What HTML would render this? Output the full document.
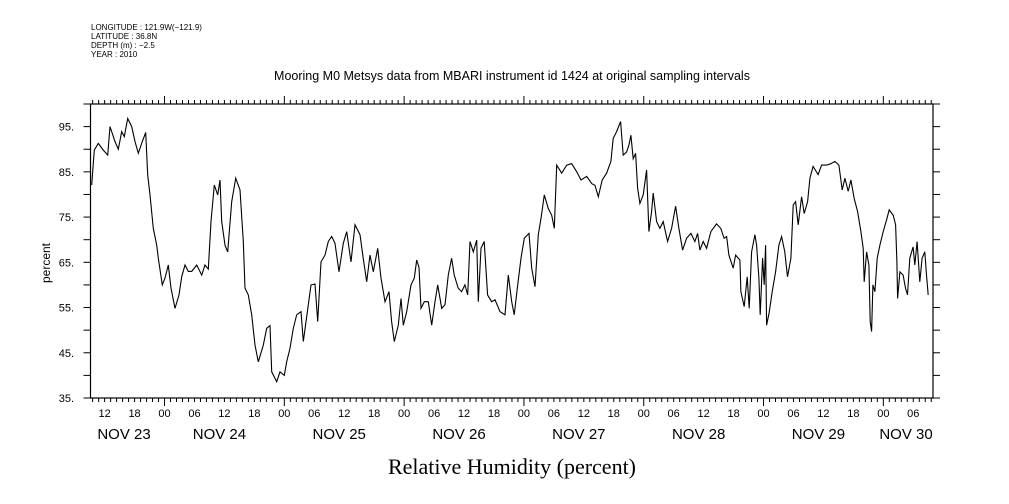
<!DOCTYPE html>
<html><head><meta charset="utf-8"><style>
html,body{margin:0;padding:0;background:#fff;}
svg{display:block;font-family:"Liberation Sans",sans-serif;}
</style></head><body>
<svg id="chart" width="1009" height="504" viewBox="0 0 1009 504" xmlns="http://www.w3.org/2000/svg">
<rect x="0" y="0" width="1009" height="504" fill="#fff"/>
<g font-size="8" fill="#000">
<text x="91" y="30">LONGITUDE : 121.9W(−121.9)</text>
<text x="91" y="39">LATITUDE : 36.8N</text>
<text x="91" y="48">DEPTH (m) : −2.5</text>
<text x="91" y="57">YEAR : 2010</text>
</g>
<text x="512" y="80" text-anchor="middle" font-size="12.5">Mooring M0 Metsys data from MBARI instrument id 1424 at original sampling intervals</text>
<text x="512" y="474" text-anchor="middle" font-size="22" font-family="'Liberation Serif',serif">Relative Humidity (percent)</text>
<text transform="translate(50,263) rotate(-90)" text-anchor="middle" font-size="12">percent</text>
<g id="axes"></g>
<path id="series" fill="none" stroke="#000" stroke-width="1.1"/>
</svg>
<script>
// hours since Nov 23 00:00
const hours = [9.41,9.94,10.74,11.74,12.62,13.08,14.08,14.74,15.42,15.94,16.63,17.43,18.09,18.75,19.55,20.23,20.63,21.09,21.75,22.43,22.75,23.56,24.10,24.76,25.30,26.10,26.90,27.44,28.10,28.76,29.44,30.45,31.45,32.11,32.77,33.31,33.97,34.65,35.11,35.45,36.12,36.65,37.46,38.26,39.12,39.78,40.12,40.78,41.46,42.12,42.78,43.79,44.47,45.13,45.47,46.47,47.13,47.99,48.47,49.13,49.80,50.48,51.34,51.80,52.80,53.34,54.14,54.68,55.35,56.15,56.81,57.49,58.15,58.95,59.81,60.49,61.35,62.15,63.15,63.81,64.50,65.16,65.82,66.70,67.36,68.16,68.96,69.50,70.03,70.83,71.37,71.83,72.51,73.37,74.03,74.51,74.97,75.37,76.04,76.84,77.52,78.18,78.72,79.52,80.18,80.84,81.52,82.04,82.84,83.52,84.18,84.73,85.19,85.85,86.53,86.85,87.39,88.05,88.73,89.53,90.20,91.20,92.20,92.86,93.54,94.06,94.76,95.42,96.08,97.02,97.56,98.22,98.88,99.42,100.08,100.88,101.56,102.08,102.56,103.56,104.56,105.56,106.57,107.43,108.57,109.57,110.23,110.89,111.69,112.57,113.43,113.89,114.57,115.37,115.89,116.57,117.03,117.43,117.90,118.38,118.78,119.24,119.90,120.58,121.04,121.58,121.90,122.58,123.24,123.90,124.79,125.59,126.39,127.05,127.79,128.59,129.45,130.25,130.79,131.25,131.92,132.60,133.46,134.57,135.43,136.10,136.60,137.06,137.93,138.41,139.27,139.47,140.13,140.73,141.13,141.61,142.27,142.61,143.07,143.33,143.81,144.13,144.41,144.61,145.13,145.73,146.41,147.07,147.61,148.27,148.81,149.48,149.94,150.42,150.94,151.62,152.14,152.82,153.28,153.94,154.94,155.63,156.63,157.49,158.29,159.09,159.76,160.30,160.96,161.50,162.17,162.85,163.51,163.97,164.17,164.65,165.11,165.37,165.65,165.91,166.31,166.77,167.31,167.97,168.65,169.17,169.97,170.45,170.71,170.85,171.31,171.97,172.45,172.85,173.31,173.97,174.31,174.77,175.31,175.77,176.31,176.65,176.98];
const humidity = [82.1,89.8,91.3,89.8,88.7,95,91.7,90,93.9,92.8,96.8,95,91.7,89.1,91.7,93.7,84.3,79.9,72.5,68.8,65.9,60,61.5,64.4,59.3,54.8,57.8,61.8,64.4,63,63,64.4,62.2,64.4,63.5,74,82.1,79.9,83.2,74,68.8,67.3,78.4,83.6,81,69.6,59.3,57.8,53.4,46.7,43,46.7,50.4,51,40.8,38.6,40.8,40,43,46,50.4,53.4,54.1,47.5,55.6,60,60.2,51.9,65.1,66.6,69.6,70.7,69.2,62.9,69.2,71.8,65.1,73.3,71.1,65.9,60.7,66.6,62.9,68.1,61.5,56.3,58.5,51.9,47.5,51.1,57,51.1,54.1,60,61.5,65.5,63.9,54.8,56.3,56.3,51.1,56.3,60,54.8,55.6,62.2,65.9,62.2,59.3,58.5,60,57.8,69.6,67.3,69.9,56.3,68.1,69.6,57.8,56.3,56.7,54.1,53.4,62.2,56.3,53.4,60,65.9,70.3,71.4,63.7,59.6,71.1,74.7,79.9,76.9,75.4,72.5,86.5,84.7,86.5,86.8,85,83.2,84,82.4,82,79.5,83.2,84.7,87.3,92.4,93.9,96.1,88.7,89.4,90.9,93.1,87.9,89.1,81.4,78,79.9,85.4,71.8,76.2,80.3,74,72.5,74,69.6,72.5,77.4,72.5,67.7,70.3,71.4,69.6,71.4,67.7,69.6,68.1,71.8,73.5,72.5,70.3,70.7,66.6,63.7,66.6,65.5,58.5,55.2,61.8,54.8,67.3,71.1,68.8,61.5,53.4,65.9,60,68.8,51.1,53.9,58.5,62.9,68.8,70.7,67.3,61.8,65.9,77.7,78.4,73.3,79.5,75.8,78.4,83.6,86.2,84.4,86.5,86.5,86.8,87.3,86.5,81,83.6,80.7,83.2,79.1,76.2,71.8,68.1,60.7,67.3,64.4,51.9,49.7,60,58.5,65.9,68.8,71.8,74.4,76.6,75.4,73.3,65.1,57,62.9,62.2,59.3,57.8,65.9,68.4,64.4,69.6,60.7,65.9,67.3,62.2,57.8];
const yTicks = [35,45,55,65,75,85,95];
const dayNames = ["NOV 23","NOV 24","NOV 25","NOV 26","NOV 27","NOV 28","NOV 29","NOV 30"];
const hourLabels = ["00","06","12","18"];

const L=90.5,R=933,T=104,B=398, yMin=35,yMax=100, hMin=9.17,hMax=177.95;
const X=h=>L+(h-hMin)/(hMax-hMin)*(R-L);
const Y=v=>B-(v-yMin)/(yMax-yMin)*(B-T);
const NS="http://www.w3.org/2000/svg";
const ax=document.getElementById('axes');
function mk(tag,attrs){const e=document.createElementNS(NS,tag);for(const k in attrs)e.setAttribute(k,attrs[k]);ax.appendChild(e);return e;}

const frame=mk('rect',{x:L,y:T,width:R-L,height:B-T,fill:'none',stroke:'#000','stroke-width':1.2});



// y ticks (every 5, labels every 10)
for(let v=35;v<=100;v+=5){
  const y=Y(v);
  const t1=mk('line',{x1:L-7,x2:L,y1:y,y2:y,stroke:'#000'});
  
  
  const t2=mk('line',{x1:R,x2:R+7,y1:y,y2:y,stroke:'#000'});
  
  
}
yTicks.forEach(v=>{
  const t=mk('text',{x:74,y:Y(v)+4,'text-anchor':'end','font-size':11});
  t.textContent=v+'.';
  
  
});

// x ticks: minor every 1.2 h, major at day boundaries
for(let h=0;h<=hMax+0.01;h+=1.2){
  if(h<hMin-0.01)continue;
  const x=X(h);
  const major=Math.abs(h/24-Math.round(h/24))<0.001;
  const len=major?8:4;
  const b=mk('line',{x1:x,x2:x,y1:B,y2:B+len,stroke:'#000'});
  
  
  const tp=mk('line',{x1:x,x2:x,y1:T,y2:T-len,stroke:'#000'});
  
  
}
for(let h=0;h<=hMax;h+=6){
  if(h<hMin)continue;
  const t=mk('text',{x:X(h),y:417,'text-anchor':'middle','font-size':11});
  t.textContent=hourLabels[(h/6)%4];
  
  
}
dayNames.forEach((d,i)=>{
  let cx=X(i*24+12)-5;
  cx=Math.max(124,Math.min(906,cx));
  const t=mk('text',{x:cx,y:439,'text-anchor':'middle','font-size':15});
  t.textContent=d;
  
  
});

let d='';
hours.forEach((h,i)=>{d+=(i?'L':'M')+X(h).toFixed(1)+','+Y(humidity[i]).toFixed(1);});
document.getElementById('series').setAttribute('d',d);
</script>
</body></html>
